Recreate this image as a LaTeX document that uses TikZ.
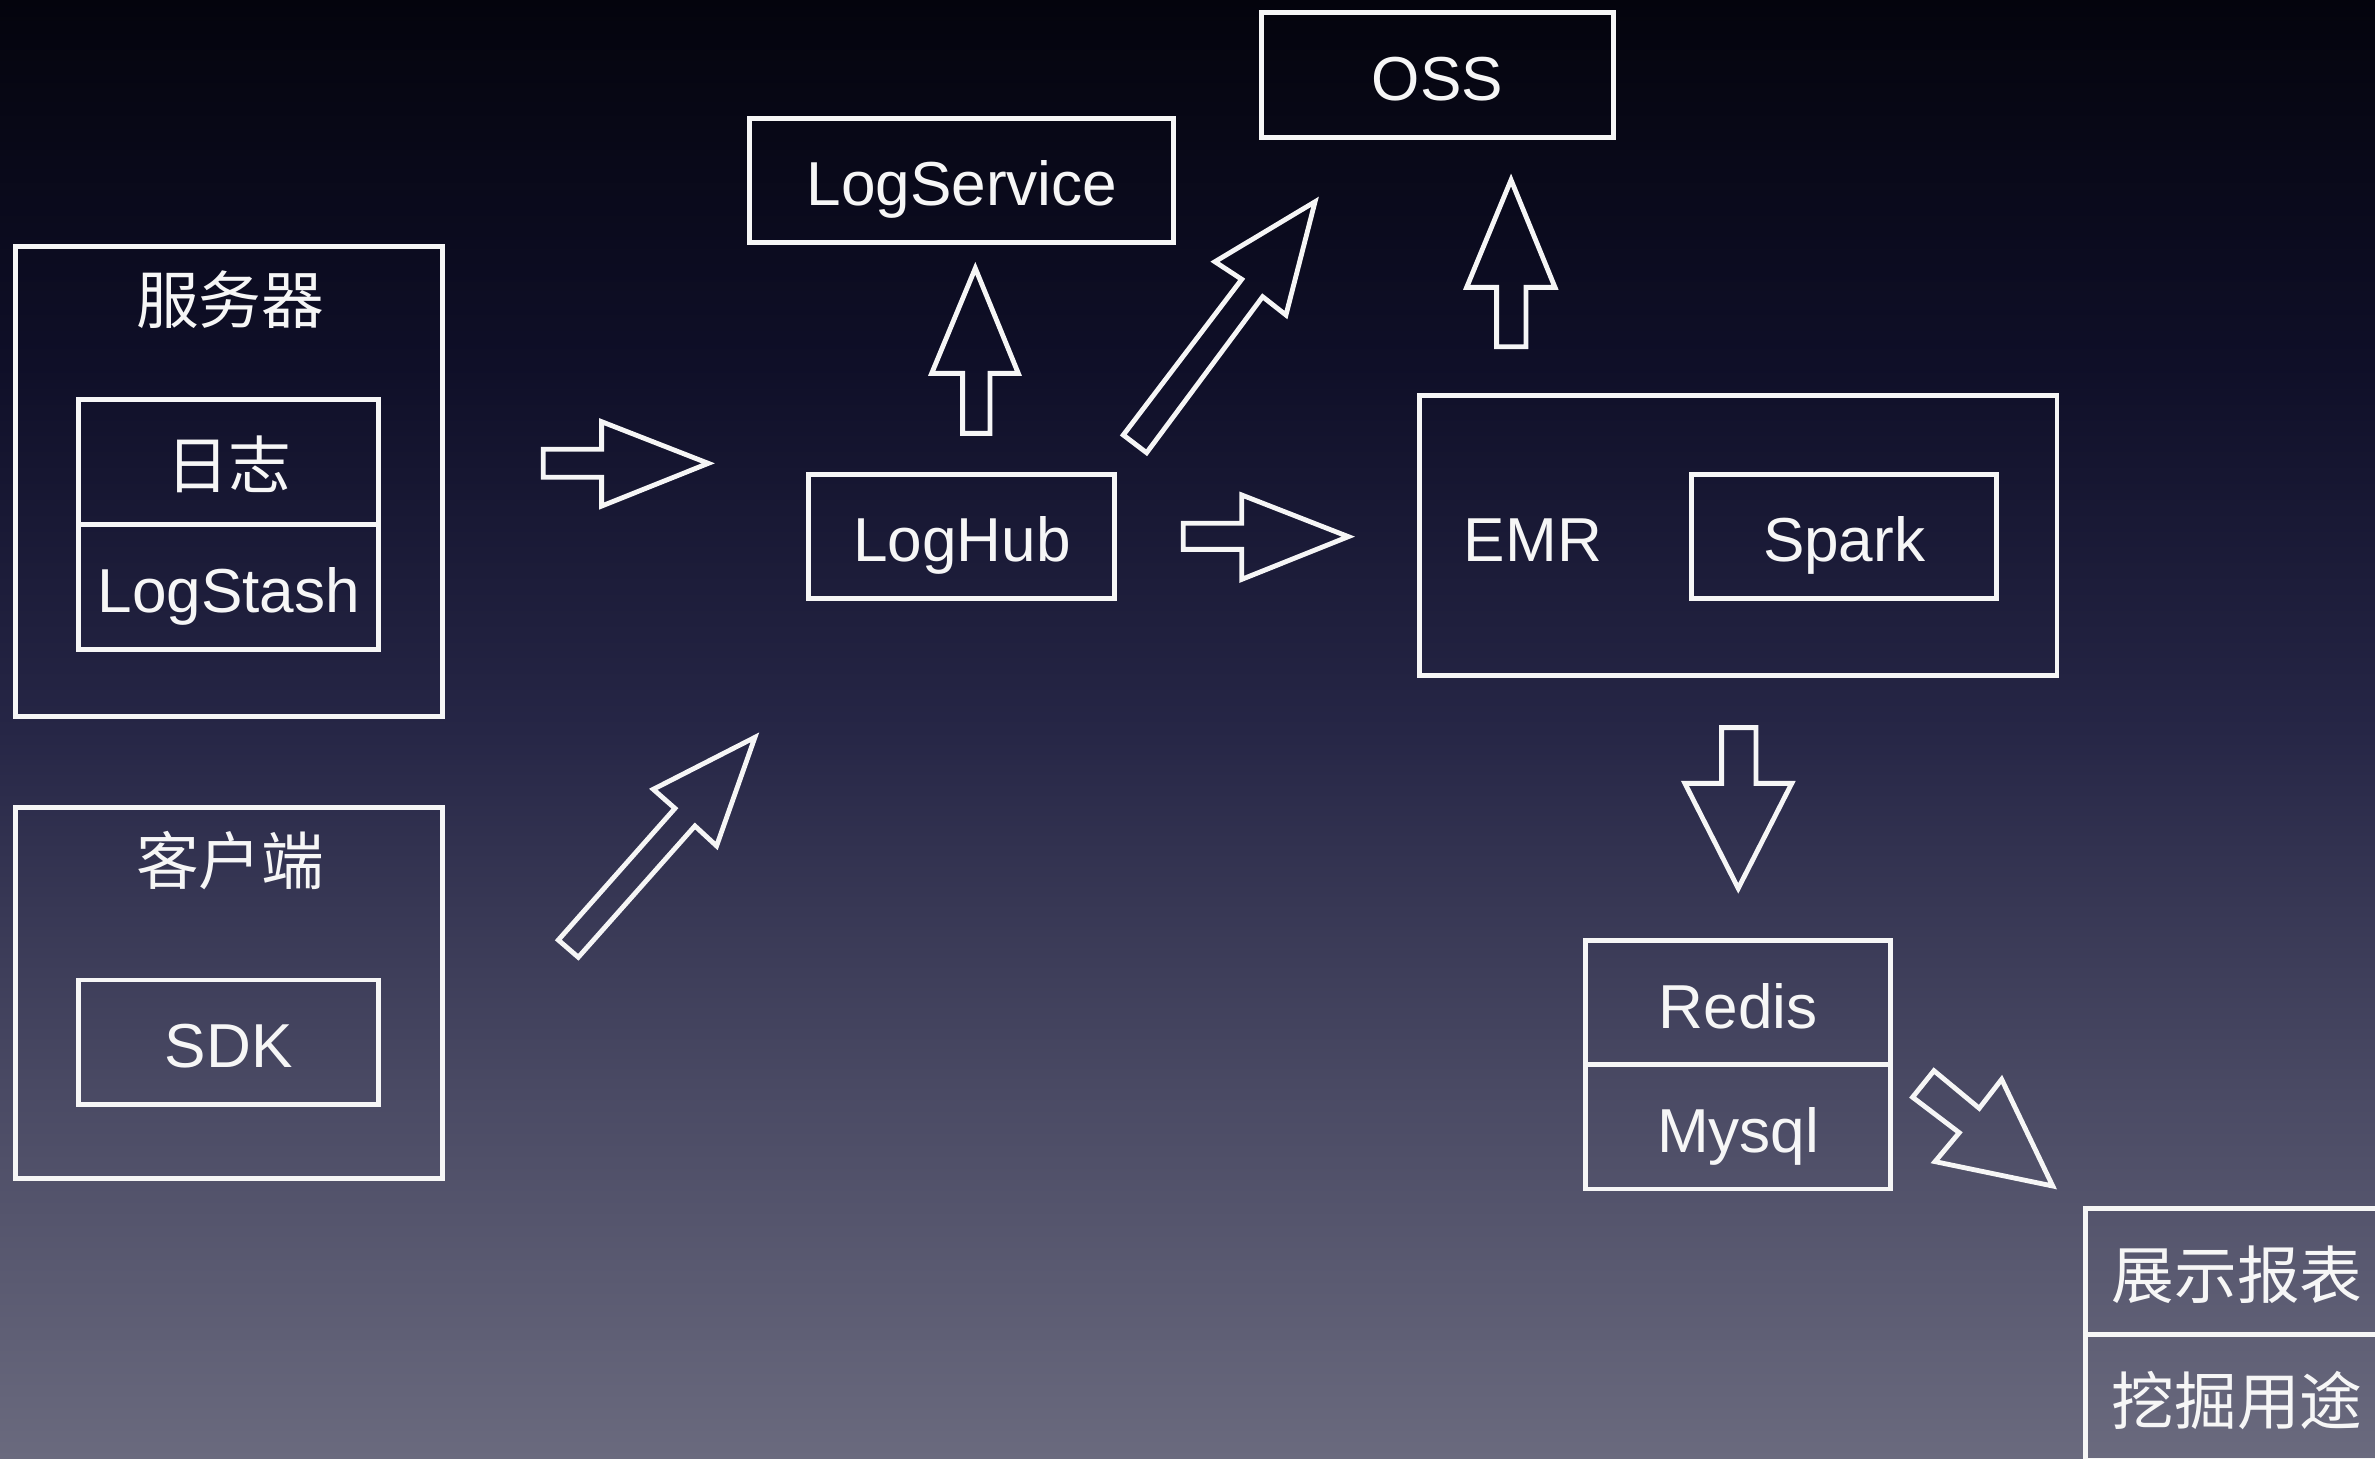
\documentclass[tikz,border=0pt]{standalone}
\usepackage{fontspec}
\setmainfont{Liberation Sans}
\newfontfamily\cjk{Noto Sans CJK SC}
\definecolor{bgA}{RGB}{4,4,13}
\definecolor{bgB}{RGB}{15,15,40}
\definecolor{bgC}{RGB}{38,38,70}
\definecolor{bgD}{RGB}{74,74,100}
\definecolor{bgE}{RGB}{106,106,126}
\definecolor{ink}{RGB}{246,246,246}
\pgfdeclareverticalshading{bgshade}{100bp}{color(0bp)=(bgE); color(25bp)=(bgE);
  color(37.5bp)=(bgD); color(50bp)=(bgC); color(62.5bp)=(bgB); color(75bp)=(bgA); color(100bp)=(bgA)}
\tikzset{
  box/.style={draw=ink, line width=1.6pt, text=ink, inner sep=0pt,
    font=\fontsize{20.5}{24}\selectfont, text height=16.7pt, text depth=0pt},
  lbl/.style={text=ink, inner sep=0pt, font=\fontsize{20.5}{24}\selectfont,
    text height=16.7pt, text depth=0pt},
  cjkt/.style={font=\cjk\fontsize{20.7}{24}\selectfont, text height=17.7pt, text depth=0pt},
  blockarrow/.style={draw=ink, line width=1.6pt, line join=miter}
}
\begin{document}
\begin{tikzpicture}[x=0.5pt,y=-0.5pt]
\path[use as bounding box] (0,0) rectangle (1568,963);
\clip (0,0) rectangle (1568,963);
\shade[shading=bgshade] (0,0) rectangle (1568,963);

% server group
\node[box, minimum width=141pt, minimum height=155pt] (srv) at (151,318) {};
\node[lbl, cjkt] (srvt) at (152,196) {服务器};
\node[box, cjkt, minimum width=99pt, minimum height=41pt] (log) at (151,305) {日志};
\node[box, minimum width=99pt, minimum height=41.5pt] (lst) at (151,387.5) {LogStash};

% client group
\node[box, minimum width=141pt, minimum height=122.5pt] (cli) at (151,655.5) {};
\node[lbl, cjkt] (clit) at (152,566) {客户端};
\node[box, minimum width=99pt, minimum height=41pt] (sdk) at (151,688) {SDK};

% middle
\node[box, minimum width=140pt, minimum height=41pt] (lsv) at (635,119) {LogService};
\node[box, minimum width=116pt, minimum height=41.5pt] (oss) at (949,49.5) {OSS};
\node[box, minimum width=101pt, minimum height=41pt] (hub) at (635,354) {LogHub};

% EMR
\node[box, minimum width=210.5pt, minimum height=92.5pt] (emr) at (1147.5,353.5) {};
\node[lbl] (emrt) at (1012,354) {EMR};
\node[box, minimum width=100.5pt, minimum height=41pt] (spark) at (1217.5,354) {Spark};

% storage
\node[box, minimum width=100.5pt, minimum height=41pt] (redis) at (1147.5,662) {Redis};
\node[box, minimum width=100.5pt, minimum height=41pt] (mysql) at (1147.5,744) {Mysql};

% outputs
\node[box, cjkt, minimum width=100pt, minimum height=41.5pt] (show) at (1477,839.5) {展示报表};
\node[box, cjkt, minimum width=100pt, minimum height=41.5pt] (mine) at (1477,922.5) {挖掘用途};

% block arrows
% server -> LogHub
\draw[blockarrow] (358.7,296.6) -- (397.2,296.6) -- (397.2,278.4) -- (467.6,305.9)
  -- (397.2,334.1) -- (397.2,315.1) -- (358.7,315.1) -- cycle;
% LogHub -> EMR
\draw[blockarrow] (781.2,345.5) -- (819.8,345.5) -- (819.8,326.8) -- (890.2,354.3)
  -- (819.8,382.5) -- (819.8,362.7) -- (781.2,362.7) -- cycle;
% LogHub -> LogService
\draw[blockarrow] (635.5,286.1) -- (635.5,246.5) -- (615.1,246.5) -- (643.9,177.1)
  -- (672.3,246.5) -- (653.6,246.5) -- (653.6,286.1) -- cycle;
% EMR -> OSS
\draw[blockarrow] (988.1,228.9) -- (988.1,189.7) -- (968.3,189.7) -- (997.6,118.8)
  -- (1026.6,189.7) -- (1007.5,189.7) -- (1007.5,228.9) -- cycle;
% LogHub -> OSS
\draw[blockarrow] (741.6,287.2) -- (819.8,184.4) -- (802.1,172.8) -- (868.2,133.2)
  -- (849.0,208.0) -- (833.6,195.9) -- (757.0,298.9) -- cycle;
% client -> LogHub
\draw[blockarrow] (368.6,620.6) -- (445.6,533.7) -- (431.3,521.1) -- (498.4,486.8)
  -- (473.1,558.5) -- (458.8,545.3) -- (381.8,632.0) -- cycle;
% EMR -> Redis
\draw[blockarrow] (1136.6,480.4) -- (1159.3,480.4) -- (1159.3,517.2) -- (1182.9,517.2)
  -- (1147.6,586.5) -- (1112.4,517.2) -- (1136.6,517.2) -- cycle;
% Mysql -> outputs
\draw[blockarrow] (1276.8,706.9) -- (1306.7,731.7) -- (1321.5,712.6) -- (1355.2,783.0)
  -- (1277.5,766.9) -- (1293.5,747.8) -- (1262.7,724.4) -- cycle;
\end{tikzpicture}
\end{document}
